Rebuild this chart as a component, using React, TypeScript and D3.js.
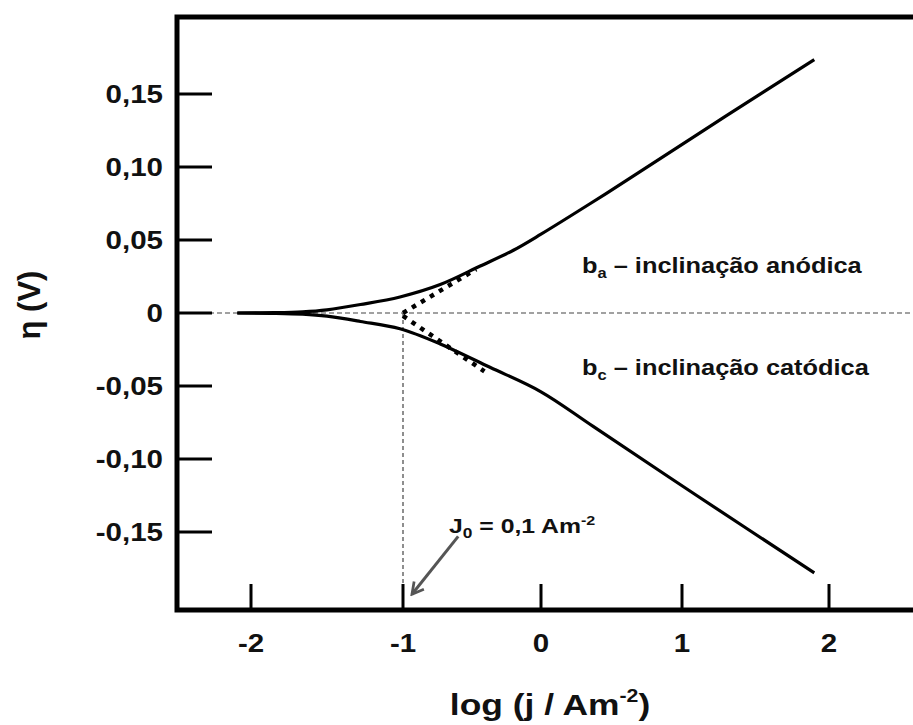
import React from 'react';
import * as d3 from 'd3';

// axis ticks
const xTicks = [-2, -1, 0, 1, 2];
const xTickLabels = ['-2', '-1', '0', '1', '2'];
const yTicks = [0.15, 0.1, 0.05, 0, -0.05, -0.1, -0.15];
const yTickLabels = ['0,15', '0,10', '0,05', '0', '-0,05', '-0,10', '-0,15'];

// anodic branch (log j, eta)
const logJAnodic = [-2.09, -1.85, -1.66, -1.5, -1.28, -1.02, -0.73, -0.44, -0.2, 0, 0.35, 0.7, 1.3, 1.9];
const etaAnodic = [0, 0.0002, 0.0008, 0.0022, 0.0058, 0.011, 0.0195, 0.0322, 0.043, 0.054, 0.075, 0.0966, 0.135, 0.1736];

// cathodic branch
const logJCathodic = [-2.09, -1.85, -1.66, -1.5, -1.28, -1.02, -0.73, -0.37, 0, 0.37, 1.1, 1.9];
const etaCathodic = [0, -0.0002, -0.0008, -0.0022, -0.0058, -0.0108, -0.0212, -0.0372, -0.054, -0.0777, -0.125, -0.178];

// Tafel extrapolations (dotted)
const tafelAnodicLogJ = [-1, -0.47];
const tafelAnodicEta = [0, 0.03];
const tafelCathodicLogJ = [-1, -0.41];
const tafelCathodicEta = [-0.002, -0.04];

// exchange current density
const logJ0 = -1;
const arrowTail = [-0.6, -0.153];
const arrowTip = [-0.935, -0.1926];

const W = 913;
const H = 725;
const left = 177;
const top = 17;
const bottom = 610;
const SX = 1.18; // text looks horizontally stretched in the original
const FONT = '"Liberation Sans", Arial, Helvetica, sans-serif';

const x = d3.scaleLinear().domain(xTicks).range([251, 403, 541, 682, 829]);
const y = d3.scaleLinear().domain([-0.15, 0.15]).range([532, 94]);

const line = d3.line<[number, number]>()
  .x(d => x(d[0]))
  .y(d => y(d[1]))
  .curve(d3.curveCatmullRom.alpha(0.5));

const zip = (a: number[], b: number[]) => a.map((v, i) => [v, b[i]] as [number, number]);

const T = ({ x: tx, y: ty, anchor = 'start', size, children }: any) => (
  <text
    transform={`translate(${tx},${ty}) scale(${SX},1)`}
    textAnchor={anchor}
    fontSize={size}
    fontWeight="bold"
    fontFamily={FONT}
    fill="#111"
  >
    {children}
  </text>
);

export default function App() {
  return (
    <svg width={W} height={H} style={{ position: 'absolute', left: 0, top: 0, background: '#fff' }}>
      <defs>
        <marker id="arr" viewBox="0 0 12 12" refX="10" refY="6" markerWidth="5" markerHeight="5" orient="auto" markerUnits="strokeWidth">
          <path d="M1,1 L10,6 L1,11" fill="none" stroke="#555" strokeWidth="2.2" />
        </marker>
      </defs>

      {/* zero line and j0 line */}
      <line x1={left} x2={W} y1={y(0)} y2={y(0)} stroke="#444" strokeWidth={1.2} strokeDasharray="5 3" />
      <line x1={x(logJ0)} x2={x(logJ0)} y1={y(0)} y2={bottom - 26} stroke="#444" strokeWidth={1.2} strokeDasharray="4 3" />

      {/* curves */}
      <path d={line(zip(logJAnodic, etaAnodic)) || ''} fill="none" stroke="#000" strokeWidth={3.2} />
      <path d={line(zip(logJCathodic, etaCathodic)) || ''} fill="none" stroke="#000" strokeWidth={3.2} />
      <path d={line(zip(tafelAnodicLogJ, tafelAnodicEta)) || ''} fill="none" stroke="#000" strokeWidth={4.5} strokeDasharray="4.5 6" />
      <path d={line(zip(tafelCathodicLogJ, tafelCathodicEta)) || ''} fill="none" stroke="#000" strokeWidth={4.5} strokeDasharray="4.5 6" />

      {/* frame */}
      <path d={`M${W},${top} H${left} V${bottom} H${W}`} fill="none" stroke="#000" strokeWidth={5} strokeLinejoin="miter" />

      {/* y ticks */}
      {yTicks.map((t, i) => (
        <g key={t}>
          <line x1={left} x2={left + 35} y1={y(t)} y2={y(t)} stroke="#000" strokeWidth={3} />
          <T x={163} y={y(t) + 9} anchor="end" size={25}>{yTickLabels[i]}</T>
        </g>
      ))}

      {/* x ticks */}
      {xTicks.map((t, i) => (
        <g key={t}>
          <line x1={x(t)} x2={x(t)} y1={bottom} y2={bottom - 26} stroke="#000" strokeWidth={3} />
          <T x={x(t)} y={652} anchor="middle" size={25}>{xTickLabels[i]}</T>
        </g>
      ))}

      {/* axis titles */}
      <T x={550} y={715} anchor="middle" size={30}>
        log (j / Am<tspan fontSize="0.6em" dy="-0.75em">-2</tspan><tspan dy="0.45em">)</tspan>
      </T>
      <text
        transform={`translate(40,305) rotate(-90)`}
        textAnchor="middle"
        fontSize={31}
        fontWeight="bold"
        fontFamily={FONT}
        fill="#111"
      >
        η (V)
      </text>

      {/* annotations */}
      <T x={582} y={273} size={21.5}>
        b<tspan fontSize="0.65em" dy="5">a</tspan><tspan dy="-5"> – inclinação anódica</tspan>
      </T>
      <T x={582} y={375} size={21.5}>
        b<tspan fontSize="0.65em" dy="5">c</tspan><tspan dy="-5"> – inclinação catódica</tspan>
      </T>
      <T x={449} y={533} size={21}>
        J<tspan fontSize="0.7em" dy="5">0</tspan><tspan dy="-5"> = 0,1 Am</tspan><tspan fontSize="0.65em" dy="-8">-2</tspan>
      </T>
      <line
        x1={x(arrowTail[0])} y1={y(arrowTail[1])}
        x2={x(arrowTip[0])} y2={y(arrowTip[1])}
        stroke="#555" strokeWidth={3} markerEnd="url(#arr)"
      />
    </svg>
  );
}
